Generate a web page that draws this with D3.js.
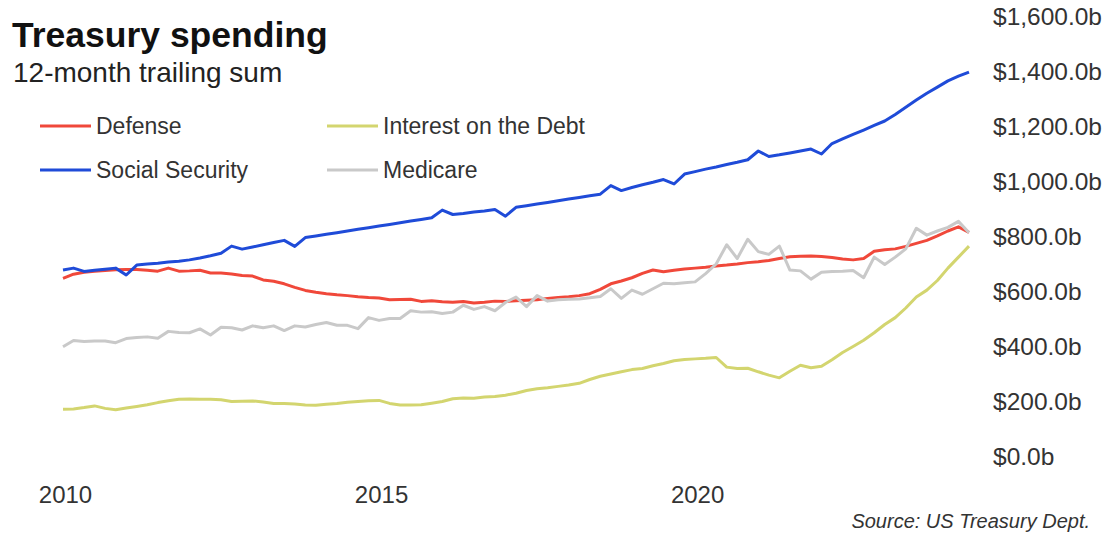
<!DOCTYPE html>
<html>
<head>
<meta charset="utf-8">
<script src="https://cdn.jsdelivr.net/npm/d3@7"></script>
<style>
    body { margin: 0; background: #fff; }
    svg text { font-family: "Liberation Sans", Arial, sans-serif; fill: #333; }
</style>
</head>
<body>
<div id="chart"></div>
<script>
// Months since Jan 2010, one reading every second month (Jan 2010 .. May 2024)
const months = d3.range(0, 173, 2);

// 12-month trailing sums, $ billions
const defense = [
    668, 683, 690, 694, 696, 699,
    700, 700, 697, 694, 705, 694,
    695, 697, 687, 687, 684, 678,
    676, 662, 657, 648, 635, 624,
    617, 612, 608, 605, 601, 598,
    596, 590, 591, 592, 584, 586,
    583, 581, 584, 578, 581, 585,
    584, 586, 588, 590, 595, 598,
    601, 605, 612, 628, 648, 658,
    670, 686, 698, 692, 697, 702,
    705, 708, 713, 716, 720, 725,
    728, 733, 740, 746, 748, 749,
    747, 744, 738, 735, 740, 766,
    772, 775, 784, 795, 806, 822,
    840, 855, 835
];

const interestOnDebt = [
    192, 193, 198, 204, 195, 190,
    196, 202, 208, 216, 223, 228,
    229, 228, 228, 226, 220, 221,
    222, 218, 213, 213, 211, 207,
    206, 210, 213, 217, 220, 223,
    224, 213, 207, 207, 208, 214,
    220, 230, 233, 232, 236, 238,
    243, 250, 260, 266, 270, 275,
    280, 286, 300, 312, 320, 328,
    336, 340, 350, 358, 368, 373,
    375, 377, 380, 345, 340, 341,
    328, 316, 306, 330, 352, 343,
    348, 372, 398, 420, 443, 470,
    500, 525, 560, 600, 625, 660,
    705, 745, 785
];

const socialSecurity = [
    698, 705, 693, 697, 701, 705,
    680, 716, 720, 723, 727, 730,
    735, 742, 750, 759, 785, 774,
    782, 790, 798, 806, 784, 816,
    822, 828, 834, 840, 846, 852,
    858, 864, 870, 876, 882, 888,
    916, 900, 904, 909, 913, 918,
    894, 926, 932, 938, 944, 950,
    956, 962, 968, 974, 1005, 987,
    998, 1008, 1017, 1027, 1011, 1047,
    1056, 1065, 1073, 1082, 1090, 1099,
    1131, 1111, 1117, 1124, 1131, 1138,
    1120, 1158, 1175, 1191, 1207, 1224,
    1240, 1264, 1290, 1316, 1341, 1363,
    1386, 1403, 1418
];

const medicare = [
    419, 442, 438, 440, 440, 434,
    449, 453, 455, 450, 475, 471,
    470, 484, 462, 490, 488, 480,
    495, 488, 495, 478, 495, 491,
    500, 507, 497, 497, 485, 525,
    515, 522, 522, 550, 545, 546,
    540, 545, 570, 555, 565, 550,
    580, 600, 565, 605, 585, 590,
    592, 593, 597, 602, 630, 595,
    625, 610, 630, 650, 648, 652,
    655, 685, 720, 790, 740, 810,
    765, 755, 785, 698, 695, 665,
    690, 693, 694, 696, 670, 745,
    718, 745, 775, 850, 825, 840,
    853, 875, 834
];

const yTicks = [0, 200, 400, 600, 800, 1000, 1200, 1400, 1600];
const xTicks = [2010, 2015, 2020];

class TreasuryChart {
    constructor(selector) {
        this.width = 1108;
        this.height = 534;

        this.svg = d3.select(selector)
            .append('svg')
            .attr('width', this.width)
            .attr('height', this.height);

        this.x = d3.scaleLinear()
            .domain([2010, 2010 + 172 / 12])
            .range([63, 969]);
        this.y = d3.scaleLinear()
            .domain([0, 1600])
            .range([462, 22]);

        this.series = [
            { name: 'Defense', values: defense, color: '#f0483a' },
            { name: 'Interest on the Debt', values: interestOnDebt, color: '#d3d56f' },
            { name: 'Social Security', values: socialSecurity, color: '#1f4bd8' },
            { name: 'Medicare', values: medicare, color: '#c9c9c9' }
        ];

        this.drawTitle();
        this.drawLegend();
        this.drawAxes();
        this.drawLines();
        this.drawSource();
    }

    drawTitle() {
        this.svg.append('text')
            .attr('x', 12)
            .attr('y', 47)
            .style('font-size', '35.5px')
            .style('font-weight', 'bold')
            .style('fill', '#111')
            .text('Treasury spending');

        this.svg.append('text')
            .attr('x', 13)
            .attr('y', 82)
            .style('font-size', '28px')
            .style('fill', '#222')
            .text('12-month trailing sum');
    }

    drawLegend() {
        // two columns, two rows
        const slots = [
            { x: 40, y: 126 }, { x: 327, y: 126 },
            { x: 40, y: 170 }, { x: 327, y: 170 }
        ];

        const items = this.svg.append('g')
            .selectAll('g')
            .data(this.series)
            .join('g')
            .attr('transform', (d, i) => `translate(${slots[i].x},${slots[i].y})`);

        items.append('line')
            .attr('x1', 0)
            .attr('x2', 51)
            .attr('stroke', d => d.color)
            .attr('stroke-width', 3);

        items.append('text')
            .attr('x', 56)
            .attr('y', 8)
            .style('font-size', '23px')
            .text(d => d.name);
    }

    drawAxes() {
        const yAxis = d3.axisRight(this.y)
            .tickValues(yTicks)
            .tickSize(0)
            .tickPadding(0)
            .tickFormat(d => '$' + d3.format(',.1f')(d) + 'b');

        const yg = this.svg.append('g')
            .attr('transform', 'translate(993,-5)')
            .call(yAxis);
        yg.select('.domain').remove();
        yg.selectAll('text')
            .style('font-size', '24.5px')
            .style('font-family', '"Liberation Sans", Arial, sans-serif')
            .style('fill', '#333');

        const xAxis = d3.axisBottom(this.x)
            .tickValues(xTicks)
            .tickSize(0)
            .tickFormat(d3.format('d'));

        const xg = this.svg.append('g')
            .attr('transform', 'translate(2,483)')
            .call(xAxis);
        xg.select('.domain').remove();
        xg.selectAll('text')
            .style('font-size', '24px')
            .style('font-family', '"Liberation Sans", Arial, sans-serif')
            .style('fill', '#333');
    }

    drawLines() {
        const line = d3.line()
            .x((d, i) => this.x(2010 + months[i] / 12))
            .y(d => this.y(d));

        // draw order: interest, defense, medicare, social security on top
        const order = [1, 0, 3, 2].map(i => this.series[i]);

        this.svg.append('g')
            .selectAll('path')
            .data(order)
            .join('path')
            .attr('fill', 'none')
            .attr('stroke', d => d.color)
            .attr('stroke-width', 3)
            .attr('stroke-linejoin', 'round')
            .attr('d', d => line(d.values));
    }

    drawSource() {
        this.svg.append('text')
            .attr('x', 1090)
            .attr('y', 528)
            .attr('text-anchor', 'end')
            .style('font-size', '20px')
            .style('font-style', 'italic')
            .text('Source: US Treasury Dept.');
    }
}

const chart = new TreasuryChart('#chart');
</script>
</body>
</html>
